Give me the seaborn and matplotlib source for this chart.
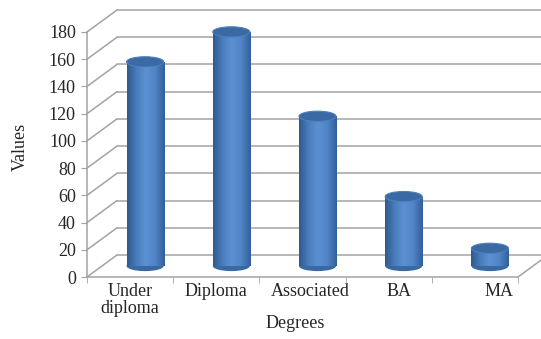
import numpy as np
import pandas as pd
import matplotlib
matplotlib.use("Agg")
import matplotlib.pyplot as plt
import matplotlib.transforms as mtransforms
from matplotlib.patches import Ellipse
from matplotlib.lines import Line2D
from matplotlib.colors import LinearSegmentedColormap
import seaborn as sns

# data
degrees = ["Under\ndiploma", "Diploma", "Associated", "BA", "MA"]
values = [150, 172, 110, 51, 13]
y_ticks = list(range(0, 181, 20))

df = pd.DataFrame({"Degrees": degrees, "Values": values})

sns.set_style("white")
plt.rcParams["font.family"] = ["Liberation Serif", "DejaVu Serif"]
fs = 13

W, H = 541, 339
fig = plt.figure(figsize=(W / 100, H / 100), dpi=100)
# front plane of the fake 3d box, in pixels
x0, x1, yb, yt = 87, 518, 277, 32
ax = fig.add_axes([x0 / W, (H - yb) / H, (x1 - x0) / W, (yb - yt) / H])

grid_col = "#a3a3a3"
dx, dy = 30, 22  # depth of the box in pixels
back = mtransforms.ScaledTranslation(dx / 100, dy / 100, fig.dpi_scale_trans)
mid = mtransforms.ScaledTranslation(dx / 200, dy / 200, fig.dpi_scale_trans)

bw = 0.43
sns.barplot(data=df, x="Degrees", y="Values", color="#4f81bd", width=bw,
            saturation=1, edgecolor="none", linewidth=0, ax=ax, zorder=3)
ax.set_xlim(-0.5, 4.5)
ax.set_ylim(0, 180)

# back wall gridlines and the side wall diagonals
for t in y_ticks:
    ax.plot([-0.5, 4.6], [t, t], color=grid_col, lw=1.1, clip_on=False,
            transform=ax.transData + back, zorder=1)
fig.canvas.draw()
for t in y_ticks:
    px, py = ax.transData.transform((-0.5, t))
    fig.add_artist(Line2D([px, px + dx], [py, py + dy], color=grid_col,
                          lw=1.1, transform=mtransforms.IdentityTransform()))
px, py = ax.transData.transform((4.5, 0))
fig.add_artist(Line2D([px, px + dx], [py, py + dy], color=grid_col, lw=1.1,
                      transform=mtransforms.IdentityTransform()))

# cylinder look for each bar
cmap = LinearSegmentedColormap.from_list(
    "cyl", ["#2f5a8e", "#4a7dbd", "#5b91d3", "#4f84c6", "#33609a"])
grad = np.linspace(0, 1, 64).reshape(1, -1)
ell_h = 7.5
for p, v in zip(ax.patches, values):
    p.set_transform(ax.transData + mid)
    p.set_clip_on(False)
    bx, w = p.get_x(), p.get_width()
    im = ax.imshow(grad, extent=[bx, bx + w, 0, v], aspect="auto", cmap=cmap,
                   transform=ax.transData + mid, zorder=4)
    im.set_clip_path(p)
    ax.add_patch(Ellipse((bx + w / 2, 0), w, ell_h, facecolor="#3a68a3",
                         edgecolor="none", transform=ax.transData + mid,
                         zorder=2.5, clip_on=False))
    ax.add_patch(Ellipse((bx + w / 2, v), w, ell_h, facecolor="#3b69a4",
                         edgecolor="#4c7fbf", lw=0.8, clip_on=False,
                         transform=ax.transData + mid, zorder=5))
ax.set_xlim(-0.5, 4.5)
ax.set_ylim(0, 180)

for s in ["top", "right"]:
    ax.spines[s].set_visible(False)
for s in ["left", "bottom"]:
    ax.spines[s].set_color(grid_col)
    ax.spines[s].set_linewidth(1.1)
ax.patch.set_alpha(0)

ax.set_yticks(y_ticks)
ax.set_xticks(range(len(degrees)))
ax.set_xticklabels(degrees, linespacing=1.0)
ax.set_xticks(np.arange(-0.5, 5, 1), minor=True)
ax.tick_params(axis="y", left=True, length=4, color=grid_col, pad=4,
               labelsize=fs)
ax.tick_params(axis="x", which="major", length=0, pad=4, labelsize=fs)
ax.tick_params(axis="x", which="minor", bottom=True, length=4, color=grid_col)

# small horizontal nudges of the category labels, as in the reference
nudges = [0, 0, 8, 10, 24]
for lab, n in zip(ax.get_xticklabels(), nudges):
    lab.set_transform(lab.get_transform() + mtransforms.ScaledTranslation(
        n / 100, 0, fig.dpi_scale_trans))

ax.set_xlabel("Degrees", fontsize=fs)
ax.set_ylabel("Values", fontsize=fs)
ax.xaxis.set_label_coords((295 - x0) / (x1 - x0), (yb - 315) / (yb - yt))
ax.yaxis.set_label_coords((29 - x0) / (x1 - x0), (yb - 147) / (yb - yt))

fig.savefig("out.png", dpi=100)
